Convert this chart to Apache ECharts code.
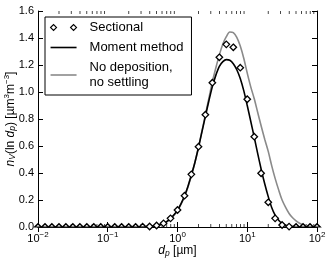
<!DOCTYPE html>
<html>
<head>
<meta charset="utf-8">
<script src="https://cdn.jsdelivr.net/npm/echarts@6/dist/echarts.min.js"></script>
<style>html,body{margin:0;padding:0;background:#fff}#c{width:332px;height:260px}</style>
</head>
<body>
<div id="c"></div>
<script>
// Sectional bins (dp in µm) and values
var sectionDp = [0.01,0.0126,0.0158,0.02,0.0251,0.0316,0.0398,0.0501,0.0631,0.0794,
  0.1,0.126,0.158,0.2,0.251,0.316,0.398,0.501,0.631,0.794,
  1,1.26,1.58,2,2.51,3.16,3.98,5.01,6.31,7.94,
  10,12.6,15.8,20,25.1,31.6,39.8,50.1,63.1,79.4,100];
var sectionalValues = [0,0,0,0,0,0,0,0,0,0,
  0,0,0,0,0,0.001,0.004,0.011,0.027,0.064,
  0.126,0.232,0.39,0.595,0.832,1.069,1.257,1.353,1.331,1.18,
  0.946,0.669,0.398,0.183,0.064,0.015,0.003,0,0,0,0];

// Continuous curves
var curveDp = [0.01,0.1,0.2,0.251,0.282,0.316,0.355,0.398,0.447,0.501,0.562,0.631,0.708,0.794,0.891,
  1,1.12,1.26,1.41,1.58,1.78,2,2.24,2.51,2.82,3.16,3.55,3.98,4.47,5.01,5.62,6.31,7.08,7.94,8.91,
  10,11.2,12.6,14.1,15.8,17.8,20,22.4,25.1,28.2,31.6,35.5,39.8,44.7,50.1,56.2,63.1,70.8,79.4,89.1,100];
var momentValues = [0,0,0,0.0005,0.001,0.0015,0.0025,0.004,0.007,0.011,0.018,0.028,0.042,0.062,0.09,
  0.125,0.172,0.23,0.3,0.385,0.48,0.59,0.705,0.82,0.935,1.04,1.125,1.19,1.225,1.24,1.235,1.21,1.165,1.1,1.01,
  0.9,0.785,0.665,0.545,0.43,0.32,0.225,0.145,0.088,0.05,0.026,0.013,0.006,0.003,0.001,0,0,0,0,0,0];
var noDepositionValues = [0,0,0,0.0005,0.001,0.0015,0.0025,0.004,0.007,0.011,0.017,0.027,0.041,0.06,0.087,
  0.12,0.167,0.225,0.295,0.38,0.48,0.59,0.71,0.83,0.955,1.075,1.18,1.275,1.355,1.41,1.445,1.44,1.405,1.34,1.25,
  1.14,1.04,0.95,0.85,0.75,0.65,0.56,0.455,0.36,0.275,0.2,0.145,0.1,0.068,0.045,0.028,0.017,0.01,0.005,0.002,0.001];

var xTickExponents = ['−2','−1','0','1','2'];
var yTickLabels = ['0.0','0.2','0.4','0.6','0.8','1.0','1.2','1.4','1.6'];
var minorTickDp = [0.02,0.03,0.04,0.05,0.06,0.07,0.08,0.09,0.2,0.3,0.4,0.5,0.6,0.7,0.8,0.9,
  2,3,4,5,6,7,8,9,20,30,40,50,60,70,80,90];
var seriesNames = ['Sectional','Moment method','No deposition,\nno settling'];

var FONT = '"Liberation Sans", Arial, sans-serif';
var halfDiamond = 'path://M0,6L6,0L12,6Z';
var GRAY = '#8a8a8a';

var sectionalData = sectionDp.map(function (d, i) {
  var v = sectionalValues[i];
  if (v < 0.003) {
    return {value: [d, v], symbol: halfDiamond, symbolSize: [6.6, 3.3], symbolOffset: [0, -1.65]};
  }
  return {value: [d, v]};
});

var chart = echarts.init(document.getElementById('c'));
var xAxisBase = {
  type: 'log', logBase: 10, min: 0.01, max: 100,
  axisLine: {show: true, lineStyle: {color: '#000', width: 1}},
  axisTick: {show: true, inside: true, length: 5, lineStyle: {color: '#000'}},
  splitLine: {show: false},
  minorTick: {show: false}
};
var yAxisBase = {
  type: 'value', min: 0, max: 1.6, interval: 0.2,
  axisLine: {show: true, lineStyle: {color: '#000', width: 1}},
  axisTick: {show: true, inside: true, length: 5, lineStyle: {color: '#000'}},
  splitLine: {show: false}
};

chart.setOption({
  animation: false,
  backgroundColor: '#fff',
  textStyle: {fontFamily: FONT},
  grid: {left: 38, right: 15, top: 11, bottom: 33, containLabel: false, outerBoundsMode: 'none'},
  legend: {
    data: [
      {name: seriesNames[0], icon: 'path://M0,3L3,0L6,3L3,6Z M20,3L23,0L26,3L23,6Z',
        itemStyle: {color: '#fff', borderColor: '#000', borderWidth: 1.1}},
      {name: seriesNames[1], icon: 'path://M0,3H26V4.6H0Z', itemStyle: {color: '#000', borderWidth: 0}},
      {name: seriesNames[2], icon: 'path://M0,3H26V4.6H0Z', itemStyle: {color: GRAY, borderWidth: 0}}
    ],
    orient: 'vertical', left: 45, top: 17,
    itemWidth: 26, itemHeight: 7, itemGap: 5,
    padding: [3, 8, 5, 5],
    borderColor: '#000', borderWidth: 1, borderRadius: 0,
    backgroundColor: '#fff',
    selectedMode: false,
    textStyle: {fontFamily: FONT, fontSize: 13, color: '#000', lineHeight: 15, padding: [0, 0, 0, 8]}
  },
  xAxis: [
    Object.assign({}, xAxisBase, {
      position: 'bottom',
      axisLabel: {
        margin: 4,
        formatter: function (v, idx) {
          var e = Math.round(Math.log(v) / Math.LN10) + 2;
          return '{b|10}{s|' + xTickExponents[e] + '}';
        },
        rich: {
          b: {fontFamily: FONT, fontSize: 11, color: '#000'},
          s: {fontFamily: FONT, fontSize: 8, color: '#000', padding: [0, 0, 7, 0]}
        }
      },
      name: '{i|d}{sub|p}{n| [µm]}',
      nameLocation: 'middle', nameGap: 17, nameMoveOverlap: false,
      nameTextStyle: {
        rich: {
          i: {fontFamily: FONT, fontSize: 12, fontStyle: 'italic', color: '#000'},
          sub: {fontFamily: FONT, fontSize: 8.5, fontStyle: 'italic', color: '#000', padding: [5, 0, 0, 0]},
          n: {fontFamily: FONT, fontSize: 12, color: '#000'}
        }
      }
    }),
    Object.assign({}, xAxisBase, {position: 'top', axisLabel: {show: false}})
  ],
  yAxis: [
    Object.assign({}, yAxisBase, {
      position: 'left',
      axisLabel: {
        margin: 4, fontSize: 11, color: '#000', fontFamily: FONT,
        formatter: function (v, idx) { return yTickLabels[Math.round(v / 0.2)]; }
      },
      name: '{i|n}{sub|V}{n|(ln }{i|d}{sub|p}{n|) [µm}{sup|3}{n|m}{sup|−3}{n|]}',
      nameLocation: 'middle', nameRotate: 90, nameGap: 20, nameMoveOverlap: false,
      nameTextStyle: {
        rich: {
          i: {fontFamily: FONT, fontSize: 12, fontStyle: 'italic', color: '#000'},
          sub: {fontFamily: FONT, fontSize: 8.5, fontStyle: 'italic', color: '#000', padding: [5, 0, 0, 0]},
          sup: {fontFamily: FONT, fontSize: 8, color: '#000', padding: [0, 0, 7, 0]},
          n: {fontFamily: FONT, fontSize: 12, color: '#000'}
        }
      }
    }),
    Object.assign({}, yAxisBase, {position: 'right', axisLabel: {show: false}})
  ],
  series: [
    {
      name: 'minorBottom', type: 'scatter', xAxisIndex: 0, yAxisIndex: 0,
      data: minorTickDp.map(function (d) { return [d, 0]; }),
      symbol: 'rect', symbolSize: [0.9, 3], symbolOffset: [0, -1.5],
      itemStyle: {color: '#000'}, clip: false, silent: true, z: 1
    },
    {
      name: 'minorTop', type: 'scatter', xAxisIndex: 0, yAxisIndex: 0,
      data: minorTickDp.map(function (d) { return [d, 1.6]; }),
      symbol: 'rect', symbolSize: [0.9, 3], symbolOffset: [0, 1.5],
      itemStyle: {color: '#000'}, clip: false, silent: true, z: 1
    },
    {
      name: seriesNames[2], type: 'line', xAxisIndex: 0, yAxisIndex: 0,
      data: curveDp.map(function (d, i) { return [d, noDepositionValues[i]]; }),
      showSymbol: false, symbol: 'none', smooth: 0.3,
      lineStyle: {color: GRAY, width: 1.6},
      itemStyle: {color: GRAY}, z: 2
    },
    {
      name: seriesNames[1], type: 'line', xAxisIndex: 0, yAxisIndex: 0,
      data: curveDp.map(function (d, i) { return [d, momentValues[i]]; }),
      showSymbol: false, symbol: 'none', smooth: 0.3,
      lineStyle: {color: '#000', width: 1.6},
      itemStyle: {color: '#000'}, z: 3
    },
    {
      name: seriesNames[0], type: 'scatter', xAxisIndex: 0, yAxisIndex: 0,
      data: sectionalData,
      symbol: 'diamond', symbolSize: 6.5,
      itemStyle: {color: '#fff', borderColor: '#000', borderWidth: 1.3, opacity: 1},
      clip: false, z: 4
    }
  ]
});
</script>
</body>
</html>
